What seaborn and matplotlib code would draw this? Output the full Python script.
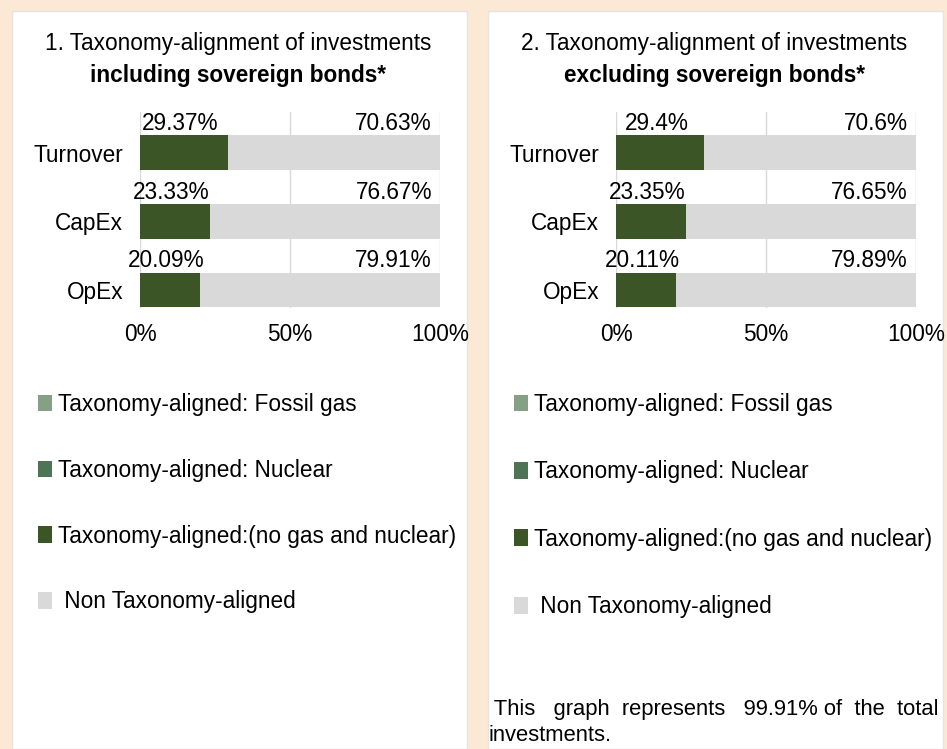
import seaborn as sns
import pandas as pd
import matplotlib.pyplot as plt
from matplotlib.patches import Rectangle, Patch

categories = ["Turnover", "CapEx", "OpEx"]
incl_aligned = [29.37, 23.33, 20.09]
incl_non = [70.63, 76.67, 79.91]
excl_aligned = [29.4, 23.35, 20.11]
excl_non = [70.6, 76.65, 79.89]
x_ticks = [0, 50, 100]
x_ticklabels = ["0%", "50%", "100%"]
legend_labels = ["Taxonomy-aligned: Fossil gas", "Taxonomy-aligned: Nuclear",
                 "Taxonomy-aligned:(no gas and nuclear)", " Non Taxonomy-aligned"]

GREEN = "#3c5527"
GREY = "#d9d9d9"
legend_colors = ["#86a086", "#4d7555", GREEN, GREY]
PEACH = "#fbe9d6"
FS = 16.3

sns.set_theme(style="white")
plt.rcParams["font.family"] = ["Liberation Sans", "DejaVu Sans"]
plt.rcParams["font.size"] = FS
plt.rcParams["text.color"] = "black"

W, H = 947, 749
fig = plt.figure(figsize=(W / 100, H / 100), dpi=100)
fig.patch.set_facecolor(PEACH)


def fx(px):
    return px / W


def fy(py):
    return 1 - py / H


# white panels behind everything
for x0, x1 in [(12, 467), (488, 943)]:
    fig.patches.append(Rectangle((fx(x0), 0), fx(x1 - x0), fy(11), transform=fig.transFigure,
                                 facecolor="white", edgecolor="#e4e4e4", linewidth=1, zorder=-5))


def panel(ax_left, aligned, non, title_a, title_b, cx, leg_x, leg_spacing):
    ax = fig.add_axes([fx(ax_left), fy(308), fx(300), 196 / H])
    ax.set_facecolor("none")
    df = pd.DataFrame({"cat": categories, "aligned": aligned, "non": non})
    df["total"] = df["aligned"] + df["non"]
    sns.barplot(data=df, x="total", y="cat", orient="h", color=GREY, saturation=1,
                width=0.5, linewidth=0, ax=ax, zorder=2)
    sns.barplot(data=df, x="aligned", y="cat", orient="h", color=GREEN, saturation=1,
                width=0.5, linewidth=0, ax=ax, zorder=3)
    ax.set_xlim(0, 100)
    ax.set_ylim(2.26, -0.59)
    for v in x_ticks:
        ax.axvline(v, color=GREY, linewidth=1, zorder=1)
    ax.set_xticks(x_ticks, x_ticklabels)
    ax.tick_params(axis="x", length=0, pad=11, labelsize=FS, colors="black")
    ax.tick_params(axis="y", length=0, pad=12, labelsize=FS, colors="black")
    ax.set_xlabel("")
    ax.set_ylabel("")
    sns.despine(ax=ax, left=True, bottom=True)
    for i, (a, n) in enumerate(zip(aligned, non)):
        ax.text(a / 2 - 1.2, i - 0.33, f"{a:g}%", ha="center", va="baseline", fontsize=FS, zorder=4)
        ax.text(97.3, i - 0.33, f"{n:g}%", ha="right", va="baseline", fontsize=FS, zorder=4)
    fig.text(fx(cx), fy(50), title_a, ha="center", va="baseline", fontsize=FS)
    fig.text(fx(cx), fy(82), title_b, ha="center", va="baseline", fontsize=FS, fontweight="bold")
    handles = [Patch(facecolor=c, edgecolor="none") for c in legend_colors]
    fig.legend(handles, legend_labels, loc="upper left", bbox_to_anchor=(fx(leg_x), fy(393)),
               frameon=False, fontsize=FS, borderpad=0, borderaxespad=0,
               handlelength=0.62, handleheight=0.76, handletextpad=0.27,
               labelspacing=leg_spacing)
    return ax


panel(140, incl_aligned, incl_non, "1. Taxonomy-alignment of investments",
      "including sovereign bonds*", 238, 38, 1.89)
panel(616, excl_aligned, excl_non, "2. Taxonomy-alignment of investments",
      "excluding sovereign bonds*", 714, 514, 1.96)

fig.text(fx(488), fy(715), " This   graph  represents   99.91% of  the  total",
         ha="left", va="baseline", fontsize=15.8)
fig.text(fx(488), fy(741), "investments.", ha="left", va="baseline", fontsize=15.8)

fig.savefig("out.png", dpi=100, facecolor=fig.get_facecolor())
